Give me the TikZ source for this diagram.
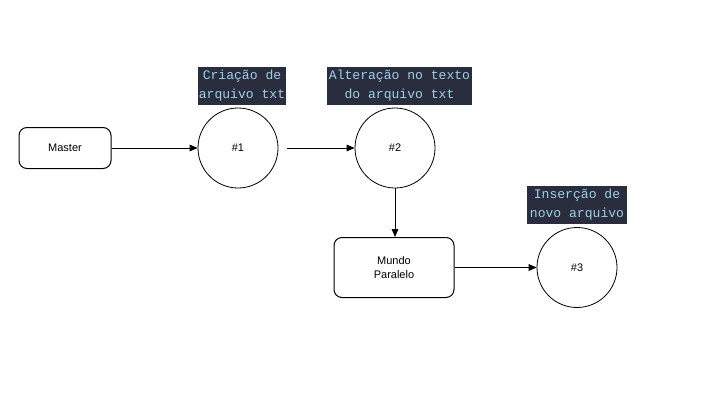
\documentclass[tikz,border=0pt]{standalone}
\usepackage{fontspec}
\setmainfont{Liberation Sans}
\setmonofont{Liberation Mono}
\usetikzlibrary{arrows.meta}
\definecolor{lblbg}{HTML}{2A2D3E}
\definecolor{lbltxt}{HTML}{9FD0E6}
\tikzset{
  px/.style={x=0.75pt,y=-0.75pt},
  rbox/.style={draw,line width=0.75pt,rounded corners=6pt,align=center,font=\fontsize{8.25pt}{10.5pt}\selectfont,inner sep=0pt},
  circ/.style={draw,circle,line width=0.6pt,minimum size=60pt,inner sep=0pt,font=\fontsize{8.25pt}{10pt}\selectfont},
  lbl/.style={fill=lblbg,text=lbltxt,align=center,inner sep=0pt,font=\ttfamily\fontsize{9.8pt}{14.25pt}\selectfont},
  arr/.style={-{Triangle[length=6pt,width=5pt]},line width=0.6pt}
}
\begin{document}
\begin{tikzpicture}[px]
\useasboundingbox (0,0) rectangle (708,418);
\node[rbox,minimum width=69pt,minimum height=30.75pt] (master) at (65,148) {Master};
\node[circ] (c1) at (238,148) {\#1};
\node[circ] (c2) at (395,148) {\#2};
\node[rbox,minimum width=90pt,minimum height=45pt] (mundo) at (394,267.5) {Mundo\\Paralelo};
\node[circ] (c3) at (577,267.5) {\#3};
\node[lbl,minimum width=66pt,minimum height=28.5pt] (l1) at (242,86) {Criação de\\arquivo txt};
\node[lbl,minimum width=109pt,minimum height=28.5pt] (l2) at (399.5,86) {Alteração no texto\\do arquivo txt};
\node[lbl,minimum width=75pt,minimum height=28.5pt] (l3) at (577,205) {Inserção de\\novo arquivo};
\coordinate (s12) at (287,148);
\draw[arr] (master) -- (c1);
\draw[arr] (s12) -- (c2);
\draw[arr] (c2) -- (c2 |- mundo.north);
\draw[arr] (mundo) -- (c3);
\end{tikzpicture}
\end{document}
